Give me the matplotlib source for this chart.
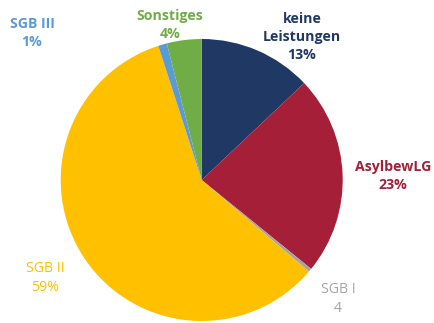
import matplotlib

matplotlib.use("Agg")

import matplotlib.pyplot as plt


# Share of people by type of benefit received (percent)
categories = ["keine\nLeistungen", "AsylbewLG", "SGB I", "SGB II", "SGB III", "Sonstiges"]
shares = [13, 23, 0.4, 59, 1, 4]
value_labels = ["13%", "23%", "4", "59%", "1%", "4%"]

COLORS = ["#1F3864", "#A51F38", "#A5A5A5", "#FFC000", "#5B9BD5", "#70AD47"]
TEXT_COLORS = ["#1F3864", "#A51F38", "#A5A5A5", "#FFC000", "#5B9BD5", "#70AD47"]
WEIGHTS = ["bold", "bold", "normal", "normal", "bold", "bold"]

# label anchor points in pixel space (x from left, y from top)
LABEL_POS = [(302, 37), (393, 176), (338, 299), (45, 278), (32, 33), (170, 25)]

W, H = 435, 323


def main() -> None:
    fig = plt.figure(figsize=(W / 100, H / 100), dpi=100)
    ax = fig.add_axes([0, 0, 1, 1])

    ax.pie(
        shares,
        colors=COLORS,
        startangle=90,
        counterclock=False,
        radius=141,
        center=(201.7, H - 180),
        wedgeprops={"linewidth": 0},
    )

    for name, value, color, weight, (x, y) in zip(
        categories, value_labels, TEXT_COLORS, WEIGHTS, LABEL_POS
    ):
        ax.text(
            x,
            H - y,
            f"{name}\n{value}",
            ha="center",
            va="center",
            color=color,
            fontsize=10.2,
            fontweight=weight,
            family="Open Sans",
            linespacing=1.4,
        )

    ax.set_xlim(0, W)
    ax.set_ylim(0, H)
    ax.set_aspect("equal")
    ax.axis("off")

    fig.savefig("out.png", dpi=100)
    plt.close(fig)


if __name__ == "__main__":
    main()
